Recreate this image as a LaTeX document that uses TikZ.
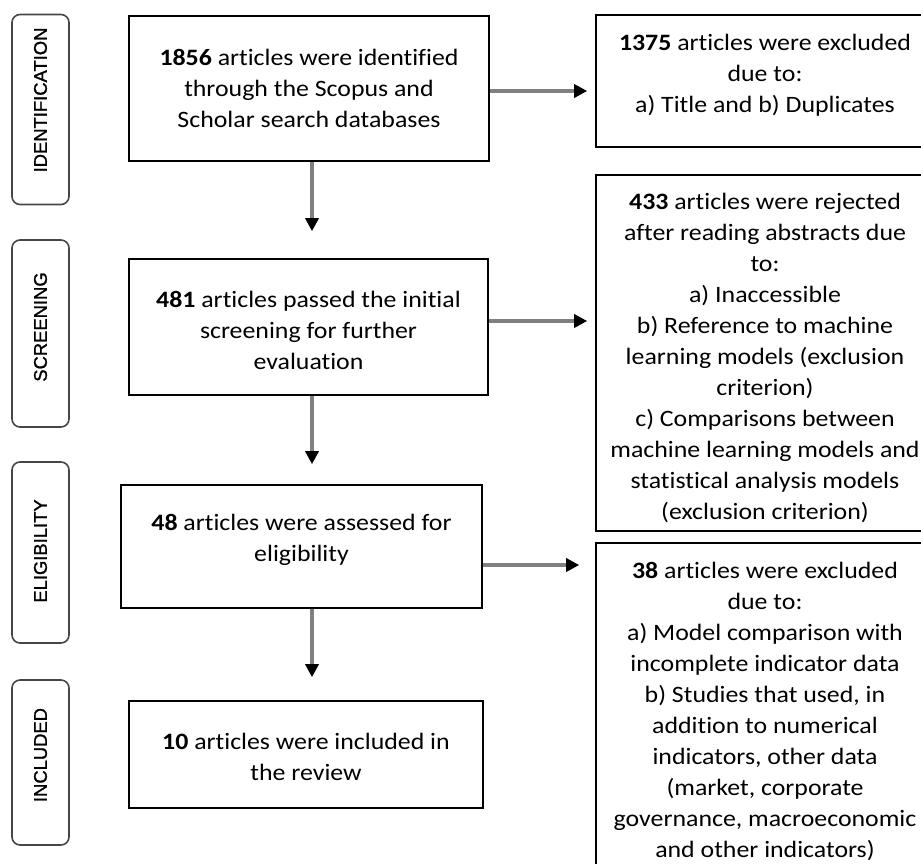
\documentclass[tikz,border=0pt]{standalone}
\usepackage{fontspec}
\setmainfont{Carlito}[Ligatures=NoCommon, FakeStretch=1.1]
\newfontfamily\phasefont{Liberation Sans}[FakeBold=1.2]
\usetikzlibrary{positioning, arrows.meta}
\definecolor{arrowgray}{RGB}{128,128,128}
\definecolor{phasegray}{RGB}{70,70,70}

\begin{document}
\begin{tikzpicture}[x=1pt, y=-1pt,
  phase/.style={draw=phasegray, line width=1.6pt, rounded corners=8pt,
    minimum width=57pt, inner sep=0pt},
  plabel/.style={rotate=90, font=\phasefont\fontsize{18.4}{18.4}\selectfont},
  stepbox/.style={draw, line width=1.6pt, inner sep=0pt},
  sidebox/.style={stepbox, minimum width=338pt},
  btext/.style={align=center, inner sep=0pt,
    font=\fontsize{23.5}{31}\selectfont},
  arr/.style={arrowgray, line width=3.5pt,
    -{Triangle[length=13pt, width=13pt, color=black]}},
]
\useasboundingbox (0,0) rectangle (921,863);

% Phases on the left
\node[phase, minimum height=190pt] (pid) at (40.5,109.5) {};
\node[plabel] at ([yshift=9.5pt]pid.center) {IDENTIFICATION};
\node[phase, minimum height=187pt] (psc) at (40.5,333.5) {};
\node[plabel] at ([yshift=6.5pt]psc.center) {SCREENING};
\node[phase, minimum height=181pt] (pel) at (40.5,552.5) {};
\node[plabel] at ([yshift=1.5pt]pel.center) {ELIGIBILITY};
\node[phase, minimum height=165pt] (pin) at (40.5,762.5) {};
\node[plabel] at ([yshift=7.5pt]pin.center) {INCLUDED};

% Main column
\node[stepbox, minimum width=360pt, minimum height=145pt] (ident) at (309,88.5) {};
\node[btext] at (ident.center) {%
  \textbf{1856} articles were identified\\
  through the Scopus and\\
  Scholar search databases};

\node[stepbox, minimum width=359pt, minimum height=136pt] (screen) at (308.5,327) {};
\node[btext] at ([yshift=-3pt]screen.center) {%
  \textbf{481} articles passed the initial\\
  screening for further\\
  evaluation};

\node[stepbox, minimum width=361pt, minimum height=123pt] (elig) at (301.5,546.5) {};
\node[btext] at ([yshift=7pt]elig.center) {%
  \textbf{48} articles were assessed for\\
  eligibility};

\node[stepbox, minimum width=354pt, minimum height=107pt] (incl) at (306,754.5) {};
\node[btext] at ([yshift=-2pt]incl.center) {%
  \textbf{10} articles were included in\\
  the review};

% Exclusions on the right
\node[sidebox, minimum height=132pt] (excl1) at (765,81) {};
\node[btext] at ([yshift=6pt]excl1.center) {%
  \textbf{1375} articles were excluded\\
  due to:\\
  a) Title and b) Duplicates};

\node[sidebox, minimum height=356pt] (excl2) at (765,353) {};
\node[btext] at ([yshift=-5pt]excl2.center) {%
  \textbf{433} articles were rejected\\
  after reading abstracts due\\
  to:\\
  a) Inaccessible\\
  b) Reference to machine\\
  learning models (exclusion\\
  criterion)\\
  c) Comparisons between\\
  machine learning models and\\
  statistical analysis models\\
  (exclusion criterion)};

\node[sidebox, minimum height=337pt] (excl3) at (765,711.5) {};
\node[btext] at (excl3.center) {%
  \textbf{38} articles were excluded\\
  due to:\\
  a) Model comparison with\\
  incomplete indicator data\\
  b) Studies that used, in\\
  addition to numerical\\
  indicators, other data\\
  (market, corporate\\
  governance, macroeconomic\\
  and other indicators)};

% Arrows down
\draw[arr, shorten >=27pt] ([xshift=3pt]ident.south) -- ([xshift=3pt]ident.south |- screen.north);
\draw[arr, shorten >=20pt] ([xshift=3.5pt]screen.south) -- ([xshift=3.5pt]screen.south |- elig.north);
\draw[arr, shorten >=23pt] ([xshift=10.5pt]elig.south) -- ([xshift=10.5pt]elig.south |- incl.north);

% Arrows right
\draw[arr, shorten >=8pt] ([yshift=-2.5pt]ident.east) -- ([yshift=-2.5pt]ident.east -| excl1.west);
\draw[arr, shorten >=8pt] ([yshift=6pt]screen.east) -- ([yshift=6pt]screen.east -| excl2.west);
\draw[arr, shorten >=16pt] ([yshift=-18.5pt]elig.east) -- ([yshift=-18.5pt]elig.east -| excl3.west);
\end{tikzpicture}
\end{document}
